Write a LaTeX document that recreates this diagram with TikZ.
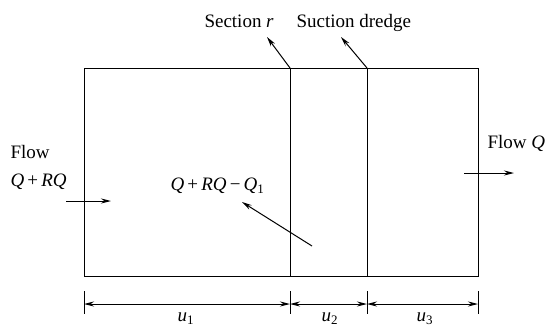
\documentclass[tikz,border=0pt]{standalone}
\usepackage{fontspec}
\setmainfont{Liberation Serif}
\usetikzlibrary{arrows.meta}
\newcommand{\subone}[1]{\raisebox{-0.35ex}{\fontsize{13}{13}\selectfont #1}}
\begin{document}
\begin{tikzpicture}[x=1pt,y=-1pt,
  line width=1pt,
  lbl/.style={inner sep=0pt,anchor=base west,font=\fontsize{19}{22}\selectfont},
  arr/.style={-{Stealth[length=10pt,width=5pt]}},
  darr/.style={{Stealth[length=10pt,width=5pt]}-{Stealth[length=10pt,width=5pt]}}]
\useasboundingbox (0,0) rectangle (552,327);
% main box
\coordinate (tl) at (84,68);
\coordinate (br) at (478,276);
\draw (tl) rectangle (br);
\coordinate (s1) at (290,68); \coordinate (s1b) at (290,276);
\coordinate (s2) at (367,68); \coordinate (s2b) at (367,276);
\draw (s1) -- (s1b);
\draw (s2) -- (s2b);
% top labels
\node[lbl] (secr) at (204,27) {Section \textit{r}};
\node[lbl] (dredge) at (296,27) {Suction dredge};
\coordinate (a1) at (267,37);
\coordinate (a2) at (341,37);
\draw[arr] (s1) -- (a1);
\draw[arr] (s2) -- (a2);
% left flow
\node[lbl] (flowin) at (10,158) {Flow};
\node[lbl] (qrq) at (10,186) {\textit{Q}\,+\,\textit{RQ}};
\coordinate (in1) at (66,201); \coordinate (in2) at (111,201);
\draw[arr] (in1) -- (in2);
% inner label
\node[lbl] (inner) at (170,190) {\textit{Q}\,+\,\textit{RQ}\,−\,\textit{Q}\subone{1}};
\coordinate (p1) at (312,246); \coordinate (p2) at (242,202);
\draw[arr] (p1) -- (p2);
% right flow
\node[lbl] (flowout) at (487,148) {Flow \textit{Q}};
\coordinate (o1) at (464,173); \coordinate (o2) at (514,173);
\draw[arr] (o1) -- (o2);
% dimensions
\foreach \x/\n in {84/t0,290/t1,367/t2,478/t3}{
  \coordinate (\n a) at (\x,291); \coordinate (\n b) at (\x,314);
  \coordinate (\n) at (\x,304);
  \draw (\n a) -- (\n b);
}
\draw[darr] (t0) -- (t1);
\draw[darr] (t1) -- (t2);
\draw[darr] (t2) -- (t3);
\node[lbl] (u1) at (177,321) {\textit{u}\subone{1}};
\node[lbl] (u2) at (321,321) {\textit{u}\subone{2}};
\node[lbl] (u3) at (416,321) {\textit{u}\subone{3}};
\end{tikzpicture}
\end{document}
